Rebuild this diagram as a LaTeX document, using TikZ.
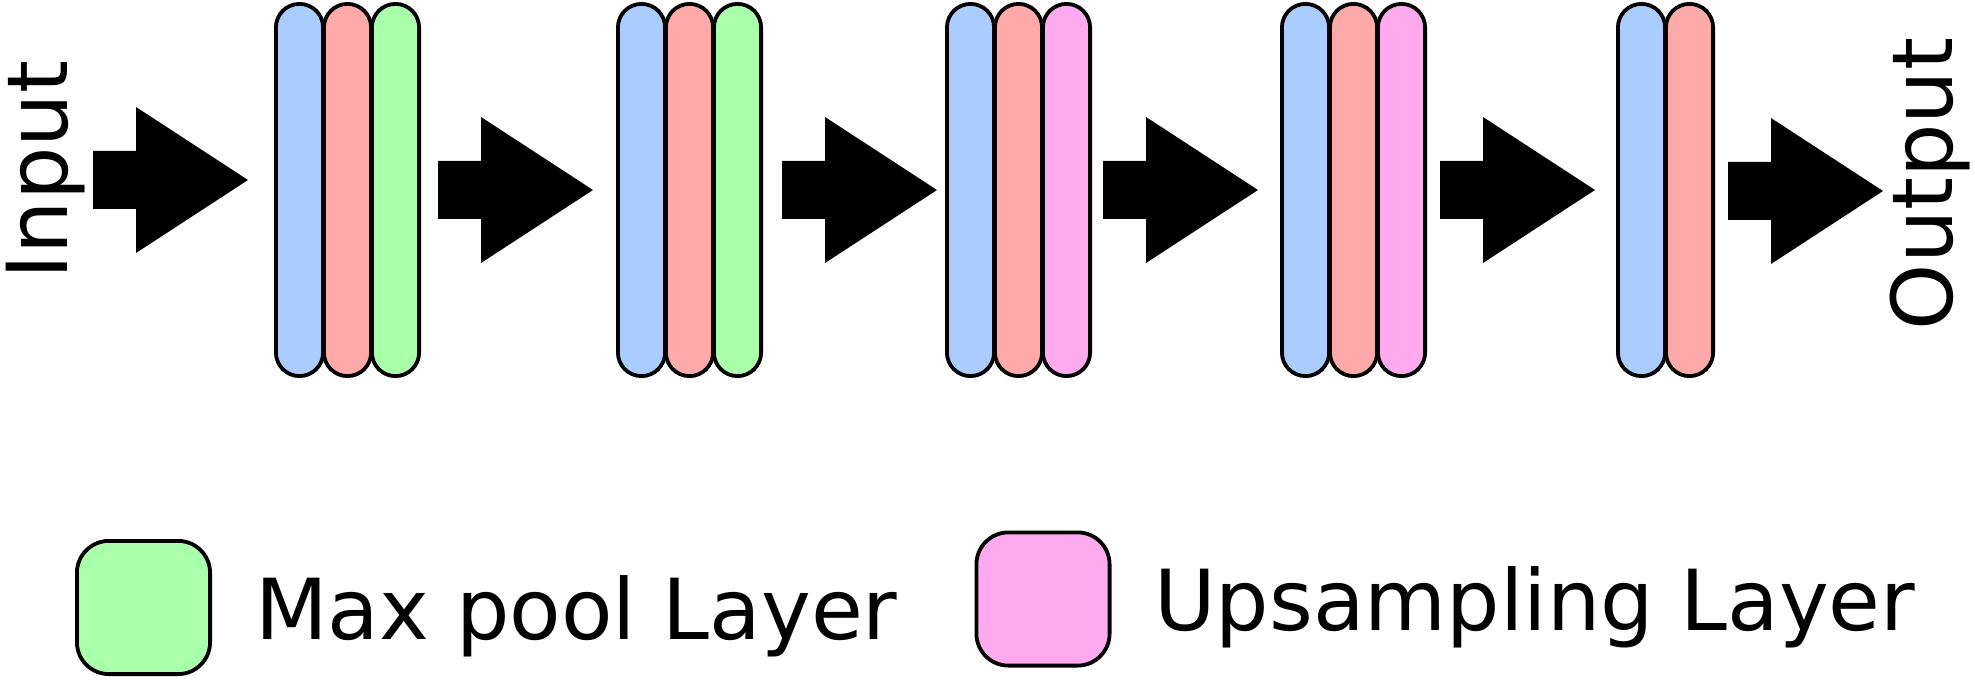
\documentclass[tikz,border=0pt]{standalone}
\usepackage{fontspec}
\setmainfont{DejaVu Sans}
\definecolor{layerblue}{HTML}{AACCFF}
\definecolor{layerred}{HTML}{FFAAAA}
\definecolor{poolgreen}{HTML}{AAFFAA}
\definecolor{upspink}{HTML}{FFAAEE}
\newcommand{\fatarrow}[2]{%
  \fill (#1,#2) ++(0,-29) -- ++(43,0) -- ++(0,-44) -- ++(112,73)
    -- ++(-112,73) -- ++(0,-44) -- ++(-43,0) -- cycle;}
\tikzset{
  layer/.style={draw, line width=3.8pt, rounded corners=23.6pt,
    minimum width=47.2pt, minimum height=372.2pt, inner sep=0pt},
  legendbox/.style={draw, line width=3.8pt, rounded corners=32pt,
    minimum size=133.2pt, inner sep=0pt},
  caption/.style={font=\fontsize{84.2}{100}\selectfont, inner sep=0pt}
}
\begin{document}
\begin{tikzpicture}[x=1pt, y=-1pt]
\useasboundingbox (0,0) rectangle (1975,692);
%
\foreach \x [count=\i] in {299.5,641.5,970.5,1305.5,1641.5} {
  \node[layer, fill=layerblue] (b\i-1) at (\x,190) {};
  \node[layer, fill=layerred] (b\i-2) at (\x+48,190) {};
}
%
\node[layer, fill=poolgreen] (b1-3) at (395.5,190) {};
\node[layer, fill=poolgreen] (b2-3) at (737.5,190) {};
\node[layer, fill=upspink] (b3-3) at (1066.5,190) {};
\node[layer, fill=upspink] (b4-3) at (1401.5,190) {};
%
\fatarrow{93}{180}
\fatarrow{438}{190}
\fatarrow{782}{190}
\fatarrow{1103}{190}
\fatarrow{1440}{190}
\fatarrow{1728}{191}
%
\node[caption, rotate=90, anchor=base] (input) at (67,170) {Input};
\node[caption, rotate=90, anchor=base] (output) at (1952,184) {Output};
%
\node[legendbox, fill=poolgreen] (poolkey) at (143.5,607.5) {};
\node[caption, anchor=base west] (pooltext) at (255,639) {Max pool Layer};
\node[legendbox, fill=upspink] (upskey) at (1043,599) {};
\node[caption, anchor=base west] (upstext) at (1154,630) {Upsampling Layer};
%
\end{tikzpicture}
\end{document}
